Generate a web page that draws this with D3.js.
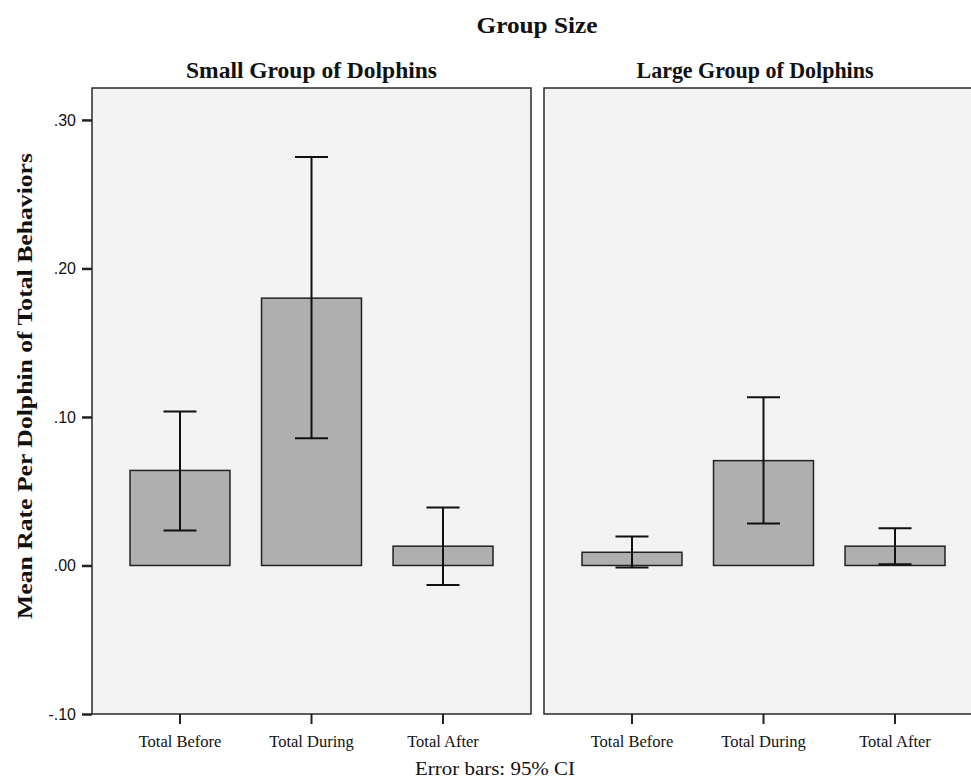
<!DOCTYPE html>
<html>
<head>
<meta charset="utf-8">
<script src="https://cdn.jsdelivr.net/npm/d3@7"></script>
<style>
  html, body { margin: 0; padding: 0; background: #ffffff; }
  svg { display: block; }
</style>
</head>
<body>
<script>
// ---- Data ----
const categories = ["Total Before", "Total During", "Total After"];
const groups = ["Small Group of Dolphins", "Large Group of Dolphins"];
const smallMeans = [0.064, 0.180, 0.013];
const smallLower = [0.0235, 0.0856, -0.0132];
const smallUpper = [0.1036, 0.275, 0.039];
const largeMeans = [0.0089, 0.0706, 0.013];
const largeLower = [-0.0013, 0.0282, 0.0009];
const largeUpper = [0.0195, 0.1132, 0.0251];
const yTicks = [-0.10, 0.00, 0.10, 0.20, 0.30];
const yDomain = [-0.10, 0.3215];

const groupData = [
  { name: groups[0], means: smallMeans, lower: smallLower, upper: smallUpper },
  { name: groups[1], means: largeMeans, lower: largeLower, upper: largeUpper }
];

// ---- Layout ----
const W = 971, H = 780;
const panelTop = 88, panelBottom = 714;
const panelW = 439;
const panelX = [92, 544];

const svg = d3.select("body").append("svg").attr("width", W).attr("height", H);

const y = d3.scaleLinear().domain(yDomain).range([panelBottom, panelTop]);
const x = d3.scaleBand().domain(categories).range([0, panelW]).paddingInner(0.24).paddingOuter(0.289);

const fmt = v => { const s = d3.format(".2f")(v).replace("\u2212", "-"); return s.replace(/^(-?)0\./, "$1."); };

const serif = "'Liberation Serif', 'Times New Roman', serif";
const sans = "'Liberation Sans', Arial, sans-serif";

// Title
svg.append("text").attr("x", 537).attr("y", 33).attr("text-anchor", "middle")
  .attr("font-family", serif).attr("font-weight", "bold").attr("font-size", 23)
  .attr("textLength", 121).attr("lengthAdjust", "spacingAndGlyphs")
  .attr("fill", "#111").text("Group Size");

const titleLen = [251, 237];

groupData.forEach((g, gi) => {
  const px = panelX[gi];
  const p = svg.append("g").attr("transform", `translate(${px},0)`);

  p.append("rect").attr("x", 0).attr("y", panelTop).attr("width", panelW)
    .attr("height", panelBottom - panelTop).attr("fill", "#f3f3f3")
    .attr("stroke", "#2a2a2a").attr("stroke-width", 1.5);

  // panel title
  p.append("text").attr("x", gi === 0 ? panelW / 2 : 211).attr("y", 78).attr("text-anchor", "middle")
    .attr("font-family", serif).attr("font-weight", "bold").attr("font-size", 22.5)
    .attr("textLength", titleLen[gi]).attr("lengthAdjust", "spacingAndGlyphs")
    .attr("fill", "#111").text(g.name);

  // bars
  p.selectAll("rect.bar").data(categories).enter().append("rect").attr("class", "bar")
    .attr("x", d => x(d)).attr("width", x.bandwidth())
    .attr("y", (d, i) => Math.min(y(g.means[i]), y(0)))
    .attr("height", (d, i) => Math.abs(y(0) - y(g.means[i])))
    .attr("fill", "#afafaf").attr("stroke", "#222").attr("stroke-width", 1.5);

  // error bars
  const cap = 33;
  categories.forEach((c, i) => {
    const cx = x(c) + x.bandwidth() / 2;
    const eg = p.append("g").attr("stroke", "#111").attr("stroke-width", 2);
    eg.append("line").attr("x1", cx).attr("x2", cx).attr("y1", y(g.lower[i])).attr("y2", y(g.upper[i]));
    eg.append("line").attr("x1", cx - cap / 2).attr("x2", cx + cap / 2).attr("y1", y(g.upper[i])).attr("y2", y(g.upper[i]));
    eg.append("line").attr("x1", cx - cap / 2).attr("x2", cx + cap / 2).attr("y1", y(g.lower[i])).attr("y2", y(g.lower[i]));
  });

  // x axis
  const xa = p.append("g").attr("transform", `translate(0,${panelBottom})`)
    .call(d3.axisBottom(x).tickSize(10).tickPadding(11));
  xa.select(".domain").remove();
  xa.selectAll(".tick line").attr("stroke", "#222").attr("stroke-width", 2);
  xa.selectAll(".tick text").attr("font-family", serif).attr("font-size", 16.5).attr("fill", "#111");
});

// y axis (left panel)
const ya = svg.append("g").attr("transform", `translate(${panelX[0]},0)`)
  .call(d3.axisLeft(y).tickValues(yTicks).tickFormat(fmt).tickSize(10).tickPadding(6));
ya.select(".domain").remove();
ya.selectAll(".tick line").attr("stroke", "#222").attr("stroke-width", 2.5);
ya.selectAll(".tick text").attr("font-family", sans).attr("font-size", 16).attr("fill", "#111");

// y label
svg.append("text").attr("transform", `translate(32,386) rotate(-90)`).attr("text-anchor", "middle")
  .attr("font-family", serif).attr("font-weight", "bold").attr("font-size", 21)
  .attr("textLength", 466).attr("lengthAdjust", "spacingAndGlyphs")
  .attr("fill", "#111").text("Mean Rate Per Dolphin of Total Behaviors");

// footnote
svg.append("text").attr("x", 495).attr("y", 775).attr("text-anchor", "middle")
  .attr("font-family", serif).attr("font-size", 18.5).attr("fill", "#111")
  .attr("textLength", 160).attr("lengthAdjust", "spacingAndGlyphs")
  .text("Error bars: 95% CI");
</script>
</body>
</html>
